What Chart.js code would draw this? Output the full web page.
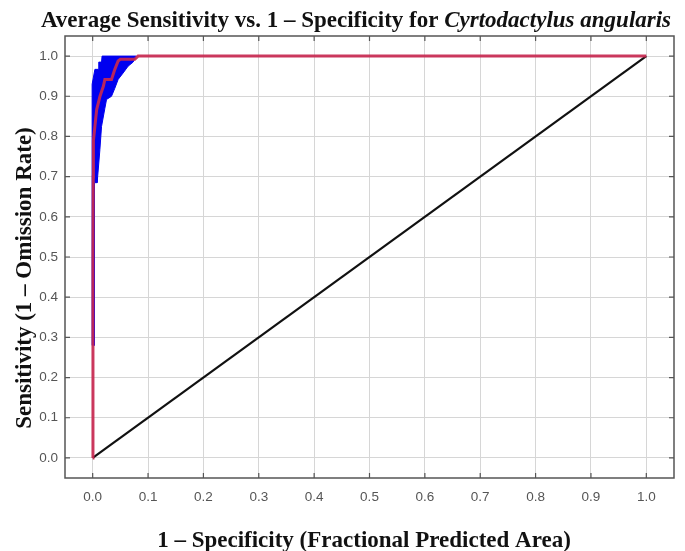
<!DOCTYPE html>
<html>
<head>
<meta charset="utf-8">
<script src="https://cdn.jsdelivr.net/npm/chart.js@4"></script>
<style>
  html, body { margin: 0; padding: 0; background: #fff; }
  #wrap { width: 685px; height: 551px; }
</style>
</head>
<body>
<div id="wrap"><canvas id="roc" width="685" height="551"></canvas></div>
<script>
// mean ROC curve (red)
const meanX = [0, 0.0005, 0.001, 0.0013, 0.004, 0.0072, 0.0132, 0.0193, 0.022, 0.034, 0.040, 0.046, 0.050, 0.076, 0.082, 1.0];
const meanY = [0, 0.50, 0.70, 0.79, 0.825, 0.867, 0.900, 0.925, 0.942, 0.942, 0.967, 0.988, 0.992, 0.992, 1.0, 1.0];

// mean + sd (upper edge of blue band), left to right
const upperX = [-0.001, -0.001, 0.004, 0.010, 0.011, 0.016, 0.017, 0.079];
const upperY = [0.28, 0.93, 0.967, 0.967, 0.985, 0.985, 1.0, 1.0];

// mean - sd (lower edge of blue band), right to left
const lowerX = [0.079, 0.073, 0.064, 0.055, 0.046, 0.040, 0.034, 0.025, 0.022, 0.016, 0.013, 0.009, 0.008, 0.003, 0.003];
const lowerY = [1.0, 0.985, 0.975, 0.958, 0.942, 0.920, 0.900, 0.892, 0.870, 0.825, 0.767, 0.700, 0.685, 0.685, 0.28];

// random prediction line
const diagX = [0, 1];
const diagY = [0, 1];

const tickValues = [0, 0.1, 0.2, 0.3, 0.4, 0.5, 0.6, 0.7, 0.8, 0.9, 1.0];

const titleMain = 'Average Sensitivity vs. 1 \u2013 Specificity for ';
const titleSpecies = 'Cyrtodactylus angularis';
const xTitle = '1 \u2013 Specificity (Fractional Predicted Area)';
const yTitle = 'Sensitivity (1 \u2013 Omission Rate)';

function toPoints(xs, ys) {
    return xs.map((x, i) => ({ x: x, y: ys[i] }));
}

const bandPoints = toPoints(upperX, upperY).concat(toPoints(lowerX, lowerY));

// frame, inward ticks and the titles (title has an italic part)
const decorations = {
    id: 'decorations',
    afterDraw(chart) {
        const ctx = chart.ctx;
        const a = chart.chartArea;
        const sx = chart.scales.x;
        const sy = chart.scales.y;
        ctx.save();
        ctx.strokeStyle = '#555';
        ctx.lineWidth = 1.5;
        ctx.strokeRect(a.left, a.top, a.right - a.left, a.bottom - a.top);
        ctx.lineWidth = 1.2;
        ctx.beginPath();
        tickValues.forEach(v => {
            const px = sx.getPixelForValue(v);
            const py = sy.getPixelForValue(v);
            ctx.moveTo(px, a.bottom); ctx.lineTo(px, a.bottom - 5);
            ctx.moveTo(px, a.top); ctx.lineTo(px, a.top + 5);
            ctx.moveTo(a.left, py); ctx.lineTo(a.left + 5, py);
            ctx.moveTo(a.right, py); ctx.lineTo(a.right - 5, py);
        });
        ctx.stroke();

        ctx.fillStyle = '#111';
        ctx.textBaseline = 'alphabetic';
        ctx.textAlign = 'left';
        const f1 = 'bold 23px "Liberation Serif", "Times New Roman", serif';
        const f2 = 'bold italic 23px "Liberation Serif", "Times New Roman", serif';
        ctx.font = f1;
        const w1 = ctx.measureText(titleMain).width;
        ctx.font = f2;
        const w2 = ctx.measureText(titleSpecies).width;
        let x0 = 356 - (w1 + w2) / 2;
        ctx.font = f1;
        ctx.fillText(titleMain, x0, 27);
        ctx.font = f2;
        ctx.fillText(titleSpecies, x0 + w1, 27);

        ctx.font = f1;
        ctx.textAlign = 'center';
        ctx.fillText(xTitle, 364, 547);

        ctx.translate(25, 278);
        ctx.rotate(-Math.PI / 2);
        ctx.textBaseline = 'middle';
        ctx.fillText(yTitle, 0, 0);
        ctx.restore();
    }
};

new Chart(document.getElementById('roc').getContext('2d'), {
    type: 'scatter',
    data: {
        datasets: [
            {
                label: 'Mean (AUC)',
                data: toPoints(meanX, meanY),
                showLine: true,
                borderColor: 'rgba(200, 40, 80, 0.92)',
                borderWidth: 3,
                pointRadius: 0,
                order: 1
            },
            {
                label: 'Random prediction',
                data: toPoints(diagX, diagY),
                showLine: true,
                borderColor: '#111',
                borderWidth: 2.2,
                pointRadius: 0,
                order: 2
            },
            {
                label: 'Mean +/- one stddev',
                data: bandPoints,
                showLine: true,
                borderColor: '#0000f0',
                borderWidth: 1,
                backgroundColor: '#0000f0',
                fill: 'shape',
                pointRadius: 0,
                order: 3
            }
        ]
    },
    options: {
        responsive: false,
        animation: false,
        layout: { padding: { top: 36, right: 11, left: 0, bottom: 0 } },
        plugins: {
            legend: { display: false },
            tooltip: { enabled: false }
        },
        scales: {
            x: {
                type: 'linear',
                min: -0.05,
                max: 1.05,
                afterBuildTicks: s => { s.ticks = tickValues.map(v => ({ value: v })); },
                afterFit: s => { s.height = 73; },
                grid: { color: '#d6d6d6', lineWidth: 1, drawTicks: false },
                border: { display: false },
                ticks: {
                    padding: 11,
                    color: '#555',
                    font: { family: '"Liberation Sans", Arial, sans-serif', size: 13.5 },
                    callback: v => v.toFixed(1)
                }
            },
            y: {
                type: 'linear',
                min: -0.05,
                max: 1.05,
                afterBuildTicks: s => { s.ticks = tickValues.map(v => ({ value: v })); },
                afterFit: s => { s.width = 65; },
                grid: { color: '#d6d6d6', lineWidth: 1, drawTicks: false },
                border: { display: false },
                ticks: {
                    padding: 7,
                    color: '#555',
                    font: { family: '"Liberation Sans", Arial, sans-serif', size: 13.5 },
                    callback: v => v.toFixed(1)
                }
            }
        }
    },
    plugins: [decorations]
});
</script>
</body>
</html>
